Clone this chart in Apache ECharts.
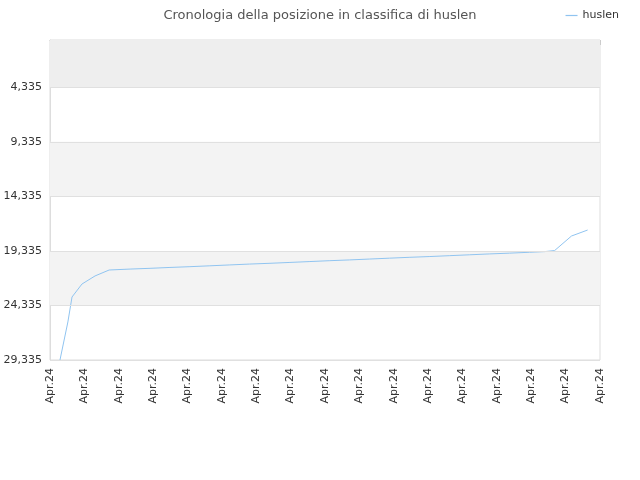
<!DOCTYPE html><html><head><meta charset="utf-8"><script src="https://cdn.jsdelivr.net/npm/echarts@6/dist/echarts.min.js"></script></head><body style="margin:0"><div id="c" style="width:640px;height:480px"></div><script>
const xLabels = Array.from({length:17},()=> "Apr.24");
const yTicks = [4335, 9335, 14335, 19335, 24335, 29335];
const xs = [0.29,0.52,0.64,0.93,1.31,1.72,2.33,2.91,3.49,4.07,4.65,5.23,5.81,6.40,6.98,7.56,8.14,8.72,9.30,9.88,10.47,11.05,11.63,12.21,12.79,13.37,13.95,14.39,14.68,15.17,15.64];
const ranks = [29335,25850,23560,22370,21630,21085,21000,20930,20850,20780,20700,20620,20540,20470,20390,20310,20230,20160,20080,20000,19920,19850,19770,19690,19610,19540,19460,19400,19300,17970,17420];
const bands = [[0,4335,'#eeeeee'],[9335,14335,'#f3f3f3'],[19335,24335,'#f3f3f3']];
const ch = echarts.init(document.getElementById('c'));
ch.setOption({
 animation:false,
 title:{text:'Cronologia della posizione in classifica di huslen',left:'center',top:4,textStyle:{fontSize:13,fontWeight:'normal',color:'#555',fontFamily:'DejaVu Sans'}},
 legend:{right:16,top:5,data:['huslen'],icon:'path://M0,0 L10,0 L10,1 L0,1 Z',itemWidth:12,itemHeight:2,textStyle:{fontSize:11,color:'#333',fontFamily:'DejaVu Sans'}},
 grid:{left:50,right:40,top:40,bottom:120},
 xAxis:{type:'value',min:0,max:16,interval:1,axisLine:{lineStyle:{color:'#ccc'}},axisTick:{show:true,lineStyle:{color:'#ccc'}},splitLine:{show:false},
   axisLabel:{rotate:90,fontSize:11,color:'#333',fontFamily:'DejaVu Sans',formatter:(v)=>xLabels[Math.round(v)]}},
 yAxis:{type:'value',inverse:true,min:0,max:29335,splitLine:{show:false},axisLine:{show:true,lineStyle:{color:'#ddd'}},axisTick:{show:false},
   axisLabel:{customValues:yTicks,fontSize:11,color:'#333',fontFamily:'DejaVu Sans'}},
 series:[{name:'huslen',type:'line',data:xs.map((x,i)=>[x,ranks[i]]),showSymbol:false,lineStyle:{color:'#90c4f0',width:1},itemStyle:{color:'#90c4f0'},
   markArea:{silent:true,itemStyle:{opacity:1},data:bands.map(b=>[{yAxis:b[0],itemStyle:{color:b[2]}},{yAxis:b[1]}])},
   markLine:{silent:true,symbol:'none',label:{show:false},lineStyle:{color:'#e0e0e0',type:'solid',width:1},data:yTicks.map(v=>({yAxis:v}))}}],
 graphic:[{type:'rect',shape:{x:50,y:40,width:550,height:320},style:{fill:'none',stroke:'#ddd'},silent:true}]
});
</script></body></html>
